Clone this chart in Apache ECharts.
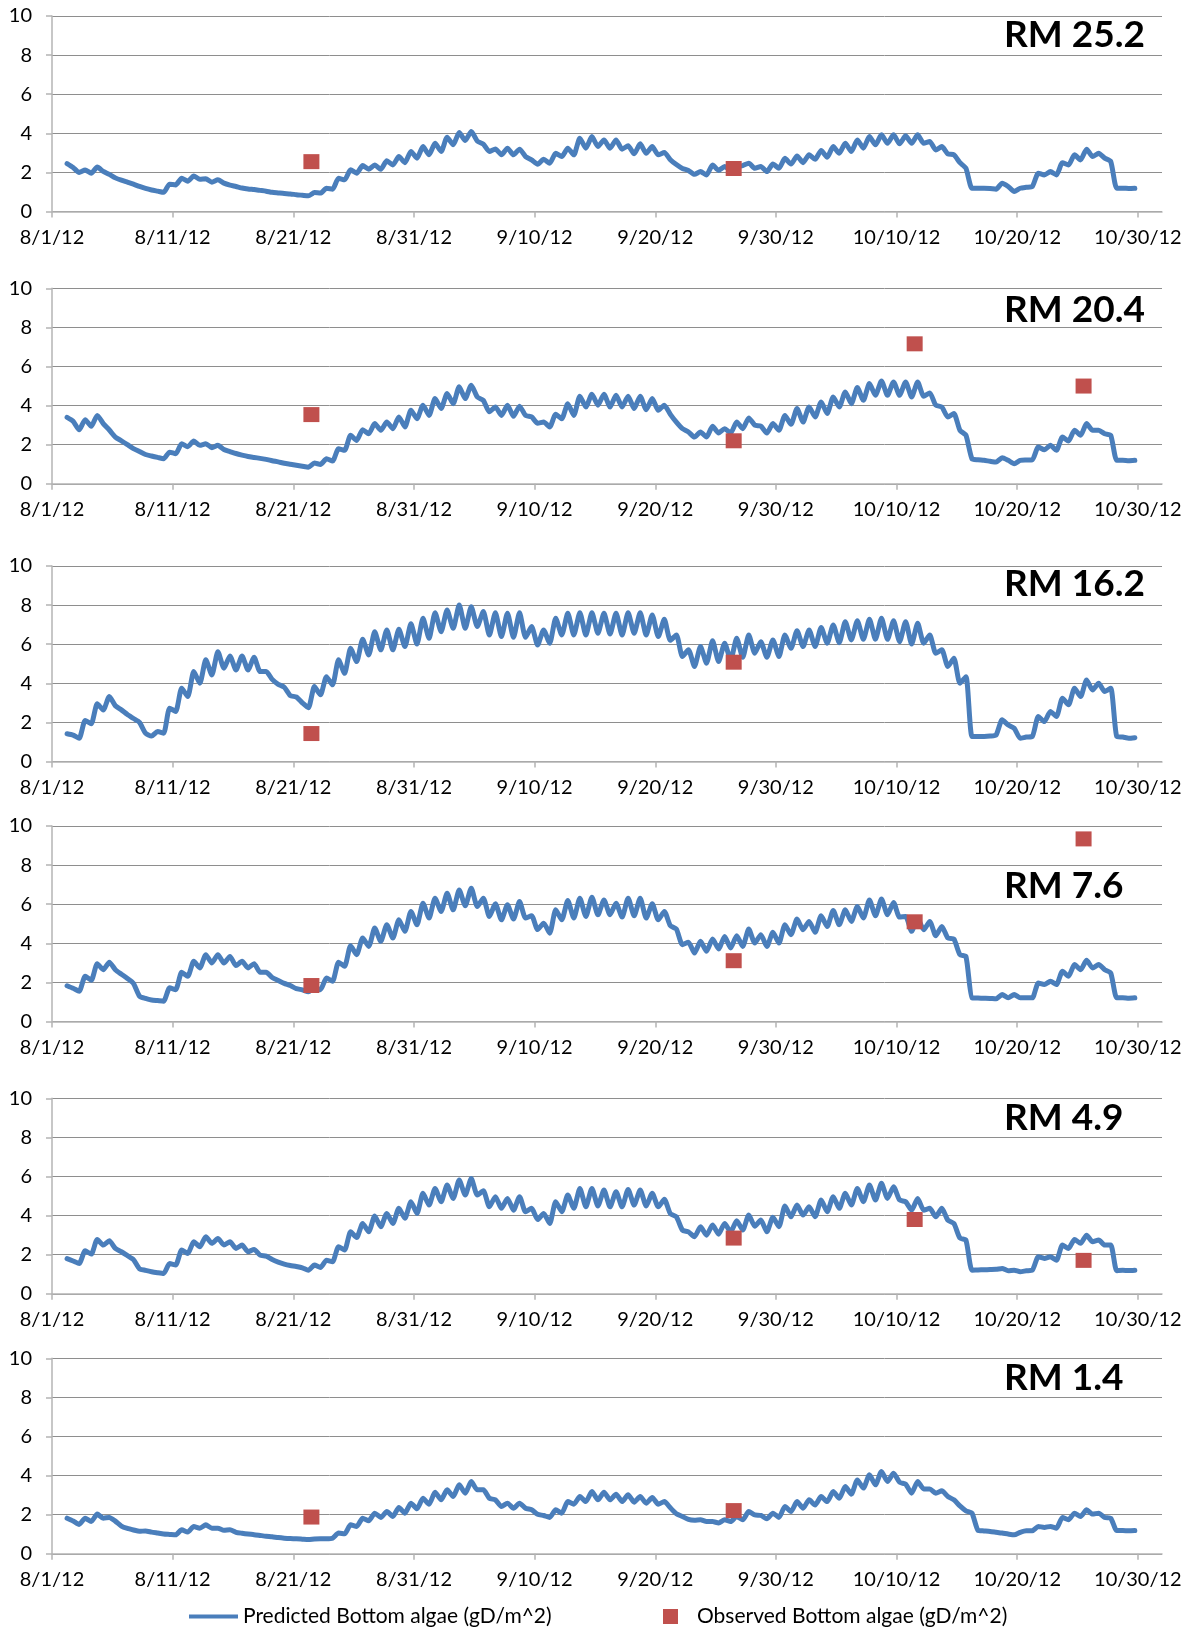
<!DOCTYPE html>
<html>
<head>
<meta charset="utf-8">
<title>Predicted vs observed bottom algae, Aug–Oct 2012</title>
<script src="https://cdn.jsdelivr.net/npm/echarts@6/dist/echarts.min.js"></script>
<style>
  html, body { margin: 0; padding: 0; background: #ffffff; }
  #chart { width: 1191px; height: 1632px; }
</style>
</head>
<body>
<div id="chart"></div>
<script>
// ---- Data ---------------------------------------------------------------
// x positions are days since 8/1/12. Predicted series are sampled twice a day
// (06:00 and 18:00) from 8/2/12 06:00 onward; one pair of values per day below.
const predictedStartDay = 1.25;
const predictedStepDays = 0.5;

// Axis tick labels, one every 10 days starting 8/1/12
const dateLabels = ['8/1/12', '8/11/12', '8/21/12', '8/31/12', '9/10/12',
                    '9/20/12', '9/30/12', '10/10/12', '10/20/12', '10/30/12'];

// Sampling dates of the observations: 8/22, 9/26, 10/11, 10/25 (midday)
const observedDays = [21.5, 56.5, 71.5, 85.5];

const stationNames = ['RM 25.2', 'RM 20.4', 'RM 16.2', 'RM 7.6', 'RM 4.9', 'RM 1.4'];

const rm252Predicted = [
  2.45,2.25, 2.0,2.12, 1.96,2.27, 2.05,1.9, 1.72,1.6, 1.5,1.4, 1.28,1.18, 1.1,1.04, 0.98,1.4, 1.36,1.7,
  1.55,1.82, 1.65,1.67, 1.5,1.62, 1.45,1.35, 1.28,1.2, 1.15,1.12, 1.08,1.04, 0.98,0.95, 0.92,0.9, 0.86,0.83,
  0.8,0.97, 0.94,1.19, 1.14,1.7, 1.62,2.13, 1.96,2.35, 2.16,2.38, 2.16,2.59, 2.38,2.81, 2.5,3.07, 2.73,3.32,
  2.9,3.49, 3.07,3.8, 3.41,4.04, 3.63,4.09, 3.6,3.45, 3.07,3.2, 2.9,3.24, 2.9,3.19, 2.81,2.64, 2.42,2.67,
  2.47,2.98, 2.81,3.24, 2.9,3.75, 3.24,3.83, 3.32,3.66, 3.24,3.66, 3.19,3.36, 2.95,3.46, 2.98,3.32, 2.9,3.02,
  2.65,2.4, 2.2,2.1, 1.9,2.04, 1.87,2.38, 2.1,2.3, 2.13,2.3, 2.35,2.47, 2.21,2.3, 2.04,2.43, 2.21,2.72,
  2.43,2.84, 2.5,2.9, 2.67,3.12, 2.78,3.32, 2.98,3.49, 3.07,3.66, 3.24,3.83, 3.41,3.92, 3.49,3.92, 3.46,3.87,
  3.49,3.92, 3.49,3.58, 3.15,3.32, 2.95,2.9, 2.5,2.21, 1.19,1.19, 1.19,1.18, 1.14,1.45, 1.28,1.02, 1.19,1.24,
  1.28,1.96, 1.87,2.04, 1.87,2.5, 2.38,2.9, 2.64,3.19, 2.81,2.98, 2.73,2.56, 1.19,1.19, 1.18,1.19
];
const rm204Predicted = [
  3.4,3.2, 2.76,3.28, 2.94,3.5, 3.08,2.75, 2.39,2.2, 2.0,1.8, 1.65,1.5, 1.42,1.35, 1.28,1.62, 1.54,2.05,
  1.9,2.19, 1.97,2.05, 1.85,1.97, 1.75,1.65, 1.55,1.47, 1.4,1.35, 1.3,1.25, 1.18,1.12, 1.05,1.0, 0.95,0.9,
  0.85,1.06, 0.99,1.28, 1.16,1.79, 1.71,2.48, 2.22,2.77, 2.56,3.08, 2.74,3.16, 2.82,3.42, 2.91,3.76, 3.33,4.02,
  3.5,4.36, 3.85,4.62, 4.1,4.96, 4.36,5.04, 4.44,4.27, 3.68,3.93, 3.5,4.02, 3.45,3.97, 3.5,3.42, 3.1,3.16,
  2.91,3.56, 3.33,4.1, 3.5,4.48, 3.93,4.58, 4.02,4.58, 3.93,4.53, 3.93,4.48, 3.85,4.48, 3.79,4.36, 3.76,4.02,
  3.55,3.15, 2.82,2.65, 2.39,2.65, 2.39,2.94, 2.6,2.82, 2.6,3.16, 2.82,3.37, 3.0,2.95, 2.6,3.08, 2.74,3.5,
  3.04,3.85, 3.16,3.93, 3.42,4.19, 3.59,4.44, 3.93,4.7, 4.1,4.92, 4.27,5.13, 4.53,5.26, 4.53,5.21, 4.53,5.21,
  4.44,5.21, 4.48,4.65, 4.02,3.93, 3.42,3.59, 2.74,2.48, 1.28,1.23, 1.2,1.15, 1.11,1.33, 1.2,1.03, 1.2,1.22,
  1.23,1.88, 1.74,1.97, 1.71,2.39, 2.19,2.74, 2.48,3.08, 2.74,2.74, 2.56,2.48, 1.2,1.2, 1.18,1.2
];
const rm162Predicted = [
  1.42,1.35, 1.19,2.1, 1.93,2.95, 2.64,3.32, 2.85,2.64, 2.4,2.2, 2.0,1.45, 1.3,1.53, 1.45,2.73, 2.56,3.75,
  3.32,4.6, 4.0,5.2, 4.43,5.62, 4.77,5.4, 4.68,5.4, 4.68,5.33, 4.6,4.6, 4.2,3.95, 3.8,3.37, 3.3,3.0,
  2.75,3.83, 3.41,4.34, 3.92,5.2, 4.51,5.79, 5.11,6.25, 5.45,6.64, 5.71,6.73, 5.71,6.76, 5.88,7.04, 6.01,7.33,
  6.3,7.61, 6.64,7.75, 6.81,8.0, 6.81,7.92, 6.9,7.67, 6.47,7.61, 6.39,7.58, 6.35,7.61, 6.35,6.9, 5.96,6.73,
  6.05,7.33, 6.47,7.58, 6.47,7.61, 6.47,7.61, 6.56,7.58, 6.52,7.58, 6.47,7.61, 6.56,7.61, 6.47,7.5, 6.39,7.27,
  6.2,6.47, 5.37,5.71, 4.86,5.88, 5.03,6.18, 5.11,6.05, 5.2,6.3, 5.33,6.47, 5.54,6.13, 5.33,6.22, 5.37,6.47,
  5.79,6.69, 5.88,6.73, 5.88,6.86, 6.05,6.98, 6.08,7.15, 6.22,7.2, 6.25,7.27, 6.25,7.33, 6.25,7.2, 6.13,7.15,
  6.01,7.07, 6.05,6.47, 5.54,5.71, 4.86,5.28, 4.0,4.34, 1.28,1.28, 1.28,1.3, 1.36,2.13, 1.87,1.7, 1.19,1.25,
  1.28,2.3, 2.04,2.56, 2.3,3.24, 2.9,3.75, 3.32,4.17, 3.66,4.0, 3.58,3.75, 1.28,1.25, 1.19,1.22
];
const rm76Predicted = [
  1.83,1.7, 1.55,2.31, 2.11,2.96, 2.65,3.03, 2.65,2.42, 2.2,1.95, 1.3,1.18, 1.1,1.07, 1.04,1.72, 1.63,2.52,
  2.31,3.08, 2.74,3.42, 2.99,3.42, 2.99,3.33, 2.86,3.08, 2.74,2.96, 2.52,2.52, 2.25,2.1, 1.95,1.84, 1.68,1.62,
  1.52,1.72, 1.63,2.23, 2.06,3.03, 2.82,3.88, 3.42,4.27, 3.84,4.78, 4.1,4.95, 4.27,5.2, 4.61,5.63, 4.95,6.05,
  5.29,6.31, 5.63,6.56, 5.71,6.73, 5.92,6.82, 5.88,6.31, 5.37,6.02, 5.2,5.97, 5.24,6.14, 5.29,5.41, 4.7,5.03,
  4.52,5.71, 5.2,6.19, 5.29,6.31, 5.37,6.36, 5.46,6.22, 5.46,6.05, 5.34,6.31, 5.41,6.31, 5.29,6.02, 5.2,5.63,
  4.9,4.73, 3.93,4.05, 3.5,4.1, 3.59,4.22, 3.71,4.35, 3.76,4.39, 3.84,4.73, 4.01,4.44, 3.84,4.56, 4.01,4.95,
  4.44,5.24, 4.69,5.12, 4.56,5.41, 4.86,5.68, 4.95,5.71, 5.12,5.88, 5.29,6.22, 5.41,6.26, 5.46,6.09, 5.34,5.37,
  4.61,5.29, 4.69,5.12, 4.39,4.86, 4.27,4.22, 3.42,3.33, 1.21,1.2, 1.19,1.18, 1.16,1.38, 1.21,1.38, 1.21,1.21,
  1.21,1.97, 1.89,2.06, 1.89,2.57, 2.31,2.91, 2.65,3.13, 2.74,2.91, 2.65,2.48, 1.21,1.21, 1.19,1.21
];
const rm49Predicted = [
  1.8,1.68, 1.55,2.2, 2.03,2.78, 2.49,2.71, 2.32,2.15, 1.95,1.75, 1.28,1.2, 1.13,1.08, 1.04,1.55, 1.47,2.24,
  2.06,2.66, 2.41,2.92, 2.58,2.83, 2.5,2.66, 2.32,2.49, 2.15,2.27, 1.98,1.93, 1.75,1.62, 1.52,1.45, 1.4,1.33,
  1.2,1.47, 1.35,1.72, 1.64,2.41, 2.24,3.17, 2.88,3.6, 3.17,3.98, 3.43,4.11, 3.6,4.37, 3.86,4.71, 4.11,5.14,
  4.54,5.39, 4.71,5.56, 4.88,5.82, 5.05,5.9, 5.05,5.27, 4.45,4.97, 4.37,4.88, 4.28,4.97, 4.2,4.37, 3.8,4.11,
  3.6,4.71, 4.2,5.05, 4.37,5.39, 4.45,5.39, 4.49,5.31, 4.45,5.22, 4.45,5.34, 4.54,5.31, 4.49,5.14, 4.45,4.83,
  4.1,3.94, 3.26,3.17, 2.92,3.43, 3.0,3.52, 3.05,3.6, 3.17,3.74, 3.26,4.03, 3.46,3.77, 3.17,3.91, 3.43,4.49,
  3.94,4.54, 4.03,4.45, 3.94,4.8, 4.2,4.97, 4.37,5.14, 4.54,5.39, 4.71,5.56, 4.8,5.65, 4.88,5.48, 4.8,4.71,
  4.28,4.88, 4.28,4.37, 3.94,4.37, 3.77,3.6, 2.85,2.75, 1.21,1.22, 1.23,1.24, 1.25,1.3, 1.18,1.21, 1.13,1.18,
  1.21,1.89, 1.81,1.89, 1.72,2.49, 2.32,2.78, 2.58,3.0, 2.66,2.75, 2.49,2.49, 1.18,1.2, 1.19,1.21
];
const rm14Predicted = [
  1.82,1.68, 1.5,1.82, 1.65,2.03, 1.82,1.86, 1.67,1.42, 1.3,1.22, 1.15,1.17, 1.11,1.06, 1.01,0.99, 0.97,1.23,
  1.11,1.4, 1.31,1.48, 1.31,1.31, 1.2,1.23, 1.1,1.05, 1.01,0.98, 0.94,0.9, 0.87,0.83, 0.8,0.78, 0.77,0.75,
  0.73,0.76, 0.77,0.77, 0.8,1.06, 1.02,1.48, 1.4,1.82, 1.69,2.08, 1.86,2.16, 1.91,2.37, 2.08,2.59, 2.3,2.84,
  2.54,3.15, 2.76,3.27, 2.93,3.53, 3.1,3.7, 3.27,3.27, 2.84,2.76, 2.42,2.59, 2.33,2.59, 2.33,2.25, 2.02,1.96,
  1.86,2.25, 2.08,2.67, 2.54,2.93, 2.67,3.19, 2.76,3.15, 2.76,3.05, 2.67,3.02, 2.64,2.93, 2.59,2.88, 2.54,2.67,
  2.35,2.05, 1.91,1.76, 1.72,1.74, 1.65,1.65, 1.58,1.74, 1.65,1.91, 1.74,2.16, 1.99,1.96, 1.79,2.08, 1.86,2.42,
  2.16,2.67, 2.33,2.76, 2.5,2.93, 2.67,3.19, 2.84,3.44, 3.05,3.78, 3.36,4.04, 3.53,4.21, 3.7,4.12, 3.66,3.56,
  3.1,3.7, 3.32,3.32, 3.1,3.22, 2.93,2.76, 2.45,2.2, 2.08,1.2, 1.17,1.14, 1.1,1.06, 1.01,0.97, 1.1,1.18,
  1.18,1.4, 1.35,1.4, 1.31,1.86, 1.74,2.08, 1.91,2.25, 2.03,2.08, 1.86,1.82, 1.19,1.19, 1.18,1.19
];

// Observed values on observedDays (null = not sampled at that station)
const rm252Observed = [2.55, 2.2, null, null];
const rm204Observed = [3.54, 2.2, 7.16, 5.0];
const rm162Observed = [1.43, 5.08, null, null];
const rm76Observed  = [1.84, 3.11, 5.1, 9.34];
const rm49Observed  = [null, 2.85, 3.8, 1.71];
const rm14Observed  = [1.88, 2.21, null, null];

const predictedByStation = [rm252Predicted, rm204Predicted, rm162Predicted, rm76Predicted, rm49Predicted, rm14Predicted];
const observedByStation  = [rm252Observed, rm204Observed, rm162Observed, rm76Observed, rm49Observed, rm14Observed];

// ---- Layout -------------------------------------------------------------
const gridTops   = [16, 288.3, 566, 826, 1098.3, 1358.3];
const gridHeight = 195.5;
const titleTops  = [17, 291.5, 566, 867.5, 1099.5, 1360];
const tickDays   = dateLabels.map((_, i) => i * 10);

const PRED_NAME = 'Predicted Bottom algae (gD/m^2)';
const OBS_NAME  = 'Observed Bottom algae (gD/m^2)';
const FONT = 'Lato, "Open Sans", sans-serif';
const AXIS_GREY = '#b4b4b4';
const GRID_GREY = '#8e8e8e';
const LINE_BLUE = '#4a7ebb';
const OBS_RED   = '#c0504d';

const chart = echarts.init(document.getElementById('chart'), null, { renderer: 'canvas' });

const grids = [], xAxes = [], yAxes = [], series = [], titles = [];

stationNames.forEach((name, i) => {
  grids.push({ left: 52, width: 1110, top: gridTops[i], height: gridHeight, containLabel: false });

  xAxes.push({
    type: 'value', gridIndex: i, min: 0, max: 92, interval: 10,
    splitLine: { show: false },
    axisLine: { show: true, onZero: false, lineStyle: { color: AXIS_GREY, width: 1.5 } },
    axisTick: { show: true, inside: false, length: 6, customValues: tickDays,
                lineStyle: { color: AXIS_GREY, width: 1.5 } },
    axisLabel: { customValues: tickDays, margin: 16, color: '#000', fontFamily: FONT, fontSize: 20,
                 formatter: v => dateLabels[Math.round(v / 10)] || '' }
  });

  yAxes.push({
    type: 'value', gridIndex: i, min: 0, max: 10, interval: 2,
    axisLine: { show: true, lineStyle: { color: AXIS_GREY, width: 1.5 } },
    axisTick: { show: true, inside: false, length: 6, lineStyle: { color: AXIS_GREY, width: 1.5 } },
    splitLine: { show: true, lineStyle: { color: GRID_GREY, width: 1 } },
    axisLabel: { margin: 20, color: '#000', fontFamily: FONT, fontSize: 20 }
  });

  series.push({
    type: 'line', name: PRED_NAME, xAxisIndex: i, yAxisIndex: i,
    data: predictedByStation[i].map((v, k) => [predictedStartDay + k * predictedStepDays, v]),
    showSymbol: false, symbol: 'none', smooth: 0.2,
    lineStyle: { color: LINE_BLUE, width: 5, join: 'round', cap: 'round' },
    itemStyle: { color: LINE_BLUE },
    emphasis: { disabled: true }
  });

  series.push({
    type: 'scatter', name: OBS_NAME, xAxisIndex: i, yAxisIndex: i, z: 3,
    data: observedDays.map((d, k) => [d, observedByStation[i][k]]).filter(p => p[1] !== null),
    symbol: 'rect', symbolSize: [16, 15],
    itemStyle: { color: OBS_RED, opacity: 1 },
    emphasis: { disabled: true }
  });

  titles.push({
    text: name, left: 1004, top: titleTops[i], padding: 0,
    textStyle: { fontFamily: FONT, fontWeight: 'bold', fontSize: 37, color: '#000' }
  });
});

chart.setOption({
  backgroundColor: '#ffffff',
  animation: false,
  title: titles,
  grid: grids,
  xAxis: xAxes,
  yAxis: yAxes,
  series: series,
  legend: [
    {
      data: [{ name: PRED_NAME, icon: 'rect' }],
      left: 189, top: 1606, padding: 0, itemWidth: 49, itemHeight: 4, selectedMode: false,
      textStyle: { fontFamily: FONT, fontSize: 21, color: '#000' }
    },
    {
      data: [{ name: OBS_NAME, icon: 'rect' }],
      left: 663, top: 1606, padding: 0, itemWidth: 15, itemHeight: 15, selectedMode: false,
      itemStyle: { opacity: 1 },
      textStyle: { fontFamily: FONT, fontSize: 21, color: '#000', padding: [0, 0, 0, 14] }
    }
  ]
});
</script>
</body>
</html>
